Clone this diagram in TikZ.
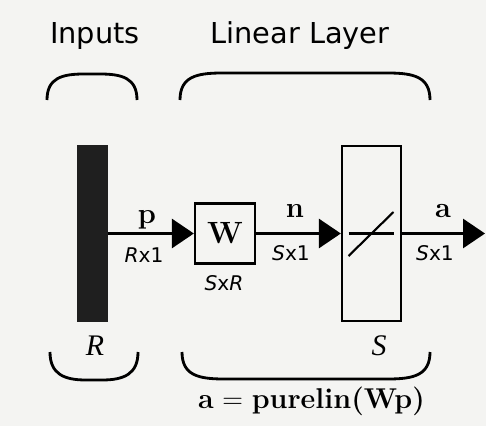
\documentclass[tikz,border=0pt]{standalone}
\usepackage{fontspec}
\newfontfamily\labelfont{DejaVu Sans}
\newfontfamily\symfont{Liberation Serif}
\usetikzlibrary{arrows.meta, positioning, calc}
\definecolor{paper}{RGB}{244,244,242}

\begin{document}
\begin{tikzpicture}[
    x=0.02cm, y=-0.02cm,
    head/.style={font=\labelfont\fontsize{16.4}{18}\selectfont, inner sep=0pt},
    dims/.style={font=\labelfont\fontsize{11.5}{13}\selectfont, inner sep=0pt},
    vec/.style={font=\fontsize{16.5}{18}\selectfont\bfseries, inner sep=0pt},
    sym/.style={font=\symfont\fontsize{17}{19}\selectfont\itshape, inner sep=0pt},
    block/.style={draw=black, line width=1.3pt, inner sep=0pt},
    signal/.style={line width=1.6pt, -{Triangle[length=12.5pt, width=16.5pt]}},
    brace/.style={line width=1.6pt}
]
\fill[paper] (0,0) rectangle (486,426);
\useasboundingbox (0,0) rectangle (486,426);

% Inputs
\node[head, anchor=base] (inputs) at (95,43) {Inputs};
\draw[brace] (47,100) .. controls (47,78) and (62,74) .. (84,74) -- (100,74) .. controls (122,74) and (137,78) .. (137,100);
\node[fill=black!88, minimum width=0.62cm, minimum height=3.54cm, inner sep=0pt] (bar) at (92.5,233.5) {};
\node[sym, anchor=base] (rsize) at (95,355) {R};
\draw[brace] (50,352) .. controls (50,374) and (64,380) .. (86,380) -- (102,380) .. controls (124,380) and (138,374) .. (138,352);

% Linear layer
\node[head, anchor=base] (layer) at (300,43) {Linear Layer};
\draw[brace] (180,100) .. controls (180,77) and (196,73) .. (222,73) -- (388,73) .. controls (414,73) and (430,77) .. (430,100);
\node[block, minimum size=1.2cm, font=\fontsize{17.5}{19}\selectfont\bfseries] (wbox) at (225,233.5) {W};
\node[block, minimum width=1.18cm, minimum height=3.5cm] (fbox) at (371.5,233.5) {};
\draw[line width=1.2pt] (fbox.center) ++(-23,0) -- ++(45,0);
\draw[line width=1.2pt] (fbox.center) ++(-23,22.5) -- ++(45,-44);
\node[sym, anchor=base] (ssize) at (379,355) {S};
\draw[brace] (182,352) .. controls (182,375) and (198,379) .. (224,379) -- (388,379) .. controls (414,379) and (430,375) .. (430,352);

% Signals
\coordinate (out) at (485,233.5);
\draw[signal] (bar.east) -- (wbox.west);
\draw[signal] (wbox.east) -- (fbox.west);
\draw[signal] (fbox.east) -- (out);

\node[vec, anchor=base] (p) at (147,223) {p};
\node[dims, anchor=base] (pdim) at (144,262) {\textit{R}x1};
\node[dims, anchor=base] (wdim) at (224,290) {\textit{S}x\textit{R}};
\node[vec, anchor=base] (n) at (295,217) {n};
\node[dims, anchor=base] (ndim) at (291,260) {\textit{S}x1};
\node[vec, anchor=base] (a) at (443,217) {a};
\node[dims, anchor=base] (adim) at (435,260) {\textit{S}x1};

% Transfer function
\node[font=\fontsize{16.3}{18}\selectfont, inner sep=0pt, anchor=base] (eqn) at (311.5,408) {\textbf{a} = \textbf{purelin(Wp)}};

\end{tikzpicture}
\end{document}
